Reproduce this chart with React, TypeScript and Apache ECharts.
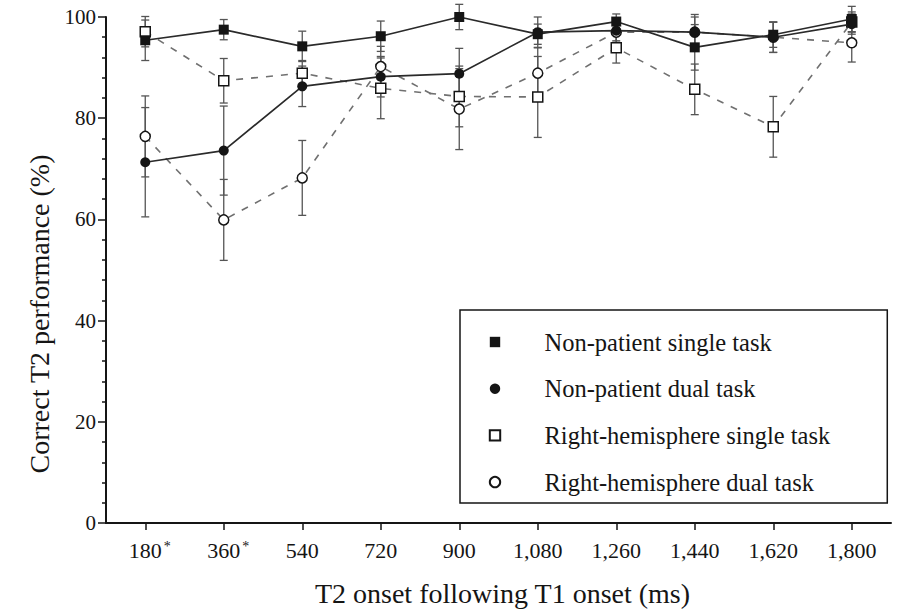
import React, { useEffect, useRef } from "react";
import * as echarts from "echarts";

// ---- data ----
const onsets = [180, 360, 540, 720, 900, 1080, 1260, 1440, 1620, 1800];
const starredOnsets = [180, 360];

const seriesNames = [
  "Non-patient single task",
  "Non-patient dual task",
  "Right-hemisphere single task",
  "Right-hemisphere dual task",
];

const npSingle = [95.4, 97.5, 94.2, 96.2, 100, 96.6, 99.1, 94.0, 96.5, 99.6];
const npSingleErr = [4, 2, 3, 3, 2.5, 2, 1.5, 4.5, 2.5, 2.5];

const npDual = [71.3, 73.6, 86.3, 88.2, 88.8, 97.0, 97.3, 97.0, 96.0, 98.6];
const npDualErr = [10.8, 8.8, 4, 4, 5, 3, 2, 3.5, 3, 2];

const rhSingle = [97.1, 87.4, 88.9, 85.9, 84.3, 84.2, 93.9, 85.7, 78.3, 99.0];
const rhSingleErr = [3, 4.4, 2.5, 6, 6, 8, 3, 5, 6, 2];

const rhDual = [76.4, 59.9, 68.2, 90.2, 81.8, 88.9, 97.0, 97.0, 96.0, 94.9];
const rhDualErr = [8, 8, 7.4, 4, 8, 5, 2, 3, 3, 3.8];

const FONT = "'Liberation Serif', 'Times New Roman', serif";
const INK = "#151515";

function fmtOnset(v: number): string {
  const s =
    v >= 1000
      ? `${Math.floor(v / 1000)},${String(v % 1000).padStart(3, "0")}`
      : String(v);
  return starredOnsets.includes(v) ? `{n|${s}}{s|*}` : s;
}

function errRender(params: any, api: any) {
  const x = api.value(0);
  const y = api.value(1);
  const e = api.value(2);
  const hi = api.coord([x, y + e]);
  const lo = api.coord([x, y - e]);
  const cap = 4;
  const style = { stroke: "#555", lineWidth: 1.3 };
  return {
    type: "group",
    children: [
      { type: "line", shape: { x1: hi[0], y1: hi[1], x2: lo[0], y2: lo[1] }, style },
      { type: "line", shape: { x1: hi[0] - cap, y1: hi[1], x2: hi[0] + cap, y2: hi[1] }, style },
      { type: "line", shape: { x1: lo[0] - cap, y1: lo[1], x2: lo[0] + cap, y2: lo[1] }, style },
    ],
  };
}

function pairs(vals: number[]) {
  return onsets.map((x, i) => [x, vals[i]]);
}
function triples(vals: number[], errs: number[]) {
  return onsets.map((x, i) => [x, vals[i], errs[i]]);
}

export default function App() {
  const ref = useRef<HTMLDivElement>(null);

  useEffect(() => {
    if (!ref.current) return;
    const chart = echarts.init(ref.current, undefined, { renderer: "svg" });

    const solid = { color: "#2a2a2a", width: 1.7, type: "solid" as const };
    const dashed = { color: "#707070", width: 1.6, type: [7, 8] as any };
    const filled = { color: INK };
    const open = { color: "#fff", borderColor: INK, borderWidth: 1.5 };

    const errSeries = (vals: number[], errs: number[], id: string) => ({
      type: "custom",
      name: id,
      data: triples(vals, errs),
      encode: { x: 0, y: 1 },
      renderItem: errRender,
      z: 1,
      silent: true,
    });

    chart.setOption({
      animation: false,
      backgroundColor: "#fff",
      grid: {
        left: 106,
        right: 13,
        top: 17,
        bottom: 87,
        containLabel: false,
        outerBoundsMode: "none",
      },
      legend: {
        orient: "vertical",
        left: 460,
        top: 310,
        data: seriesNames,
        selectedMode: false,
        itemWidth: 13,
        itemHeight: 13,
        itemGap: 20.7,
        padding: [19, 57, 8, 28.5],
        borderColor: INK,
        borderWidth: 1.5,
        borderRadius: 0,
        backgroundColor: "#fff",
        lineStyle: { width: 0, color: "rgba(0,0,0,0)" },
        formatter: (n: string) => `{t|${n}}`,
        textStyle: {
          fontFamily: FONT,
          fontSize: 24.5,
          color: INK,
          lineHeight: 26,
          rich: {
            t: {
              fontFamily: FONT,
              fontSize: 24.5,
              color: INK,
              lineHeight: 26,
              padding: [0, 0, 0, 38],
            },
          },
        },
      },
      xAxis: {
        type: "value",
        min: 90,
        max: 1890,
        name: "T2 onset following T1 onset (ms)",
        nameLocation: "middle",
        nameGap: 56,
        nameTextStyle: {
          fontFamily: FONT,
          fontSize: 28,
          color: INK,
          lineHeight: 28,
          padding: [0, 0, 0, 8],
        },
        axisLine: { show: true, lineStyle: { color: INK, width: 2 } },
        axisTick: {
          show: true,
          customValues: onsets,
          length: 7,
          lineStyle: { color: INK, width: 1.5 },
        },
        axisLabel: {
          customValues: onsets,
          formatter: fmtOnset,
          margin: 16,
          fontFamily: FONT,
          fontSize: 22,
          color: INK,
          rich: {
            n: { fontFamily: FONT, fontSize: 22, color: INK, padding: [0, 0, 0, 9] },
            s: {
              fontFamily: FONT,
              fontSize: 14,
              color: INK,
              verticalAlign: "top",
              padding: [0, 0, 0, 2],
            },
          },
        },
        splitLine: { show: false },
      },
      yAxis: {
        type: "value",
        min: 0,
        max: 100,
        interval: 20,
        name: "Correct T2 performance (%)",
        nameLocation: "middle",
        nameGap: 53,
        nameRotate: 90,
        nameTextStyle: {
          fontFamily: FONT,
          fontSize: 28,
          color: INK,
          padding: [0, 88, 0, 0],
        },
        axisLine: { show: true, lineStyle: { color: INK, width: 2 } },
        axisTick: { show: true, length: 8, lineStyle: { color: INK, width: 1.5 } },
        minorTick: {
          show: true,
          splitNumber: 5,
          length: 4,
          lineStyle: { color: INK, width: 1.5 },
        },
        axisLabel: { margin: 10, fontFamily: FONT, fontSize: 21, color: INK },
        splitLine: { show: false },
        minorSplitLine: { show: false },
      },
      series: [
        errSeries(npSingle, npSingleErr, "err-np-single"),
        errSeries(npDual, npDualErr, "err-np-dual"),
        errSeries(rhSingle, rhSingleErr, "err-rh-single"),
        errSeries(rhDual, rhDualErr, "err-rh-dual"),
        {
          type: "line",
          name: seriesNames[3],
          data: pairs(rhDual),
          symbol: "circle",
          symbolSize: 10,
          itemStyle: open,
          lineStyle: dashed,
          z: 2,
        },
        {
          type: "line",
          name: seriesNames[2],
          data: pairs(rhSingle),
          symbol: "rect",
          symbolSize: 10,
          itemStyle: open,
          lineStyle: dashed,
          z: 2,
        },
        {
          type: "line",
          name: seriesNames[1],
          data: pairs(npDual),
          symbol: "circle",
          symbolSize: 10,
          itemStyle: filled,
          lineStyle: solid,
          z: 3,
        },
        {
          type: "line",
          name: seriesNames[0],
          data: pairs(npSingle),
          symbol: "rect",
          symbolSize: 10,
          itemStyle: filled,
          lineStyle: solid,
          z: 3,
        },
      ],
    });

    return () => chart.dispose();
  }, []);

  return (
    <div
      ref={ref}
      style={{ position: "fixed", left: 0, top: 0, width: 904, height: 610, background: "#fff" }}
    />
  );
}
